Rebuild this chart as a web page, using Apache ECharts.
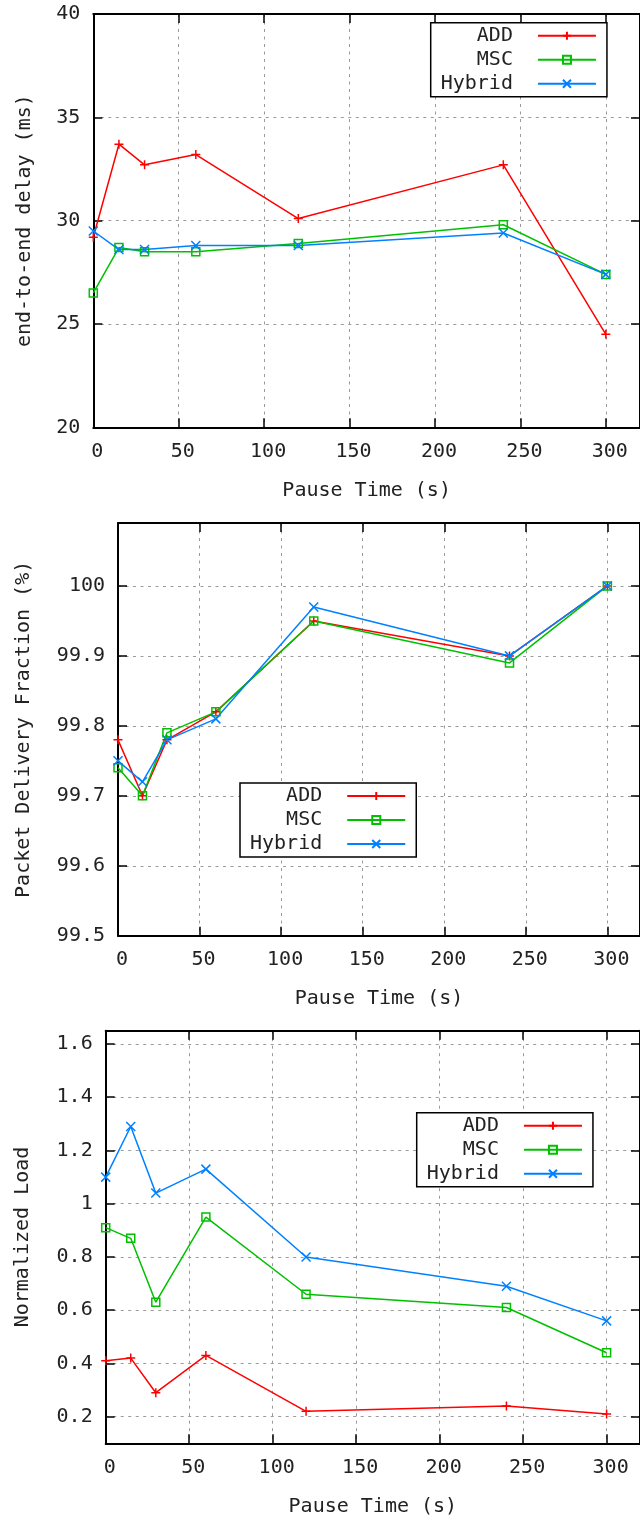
<!DOCTYPE html>
<html>
<head>
<meta charset="utf-8">
<script src="https://cdn.jsdelivr.net/npm/echarts@6/dist/echarts.min.js"></script>
<style>
html,body{margin:0;padding:0;background:#fff;}
#c{width:640px;height:1519px;}
</style>
</head>
<body>
<div id="c"></div>
<script>
// ---- data ----
const pauseTime = [0, 15, 30, 60, 120, 240, 300];
const seriesNames = ['ADD', 'MSC', 'Hybrid'];

const delayADD    = [29.2, 33.7, 32.7, 33.2, 30.1, 32.7, 24.5];
const delayMSC    = [26.5, 28.7, 28.5, 28.5, 28.9, 29.8, 27.4];
const delayHybrid = [29.5, 28.6, 28.6, 28.8, 28.8, 29.4, 27.4];

const pdfADD    = [99.78, 99.70, 99.78, 99.82, 99.95, 99.90, 100];
const pdfMSC    = [99.74, 99.70, 99.79, 99.82, 99.95, 99.89, 100];
const pdfHybrid = [99.75, 99.72, 99.78, 99.81, 99.97, 99.90, 100];

const loadADD    = [0.41, 0.42, 0.29, 0.43, 0.22, 0.24, 0.21];
const loadMSC    = [0.91, 0.87, 0.63, 0.95, 0.66, 0.61, 0.44];
const loadHybrid = [1.10, 1.29, 1.04, 1.13, 0.80, 0.69, 0.56];

const xTitle = 'Pause Time (s)';
const yTitles = ['end-to-end delay (ms)', 'Packet Delivery Fraction (%)', 'Normalized Load'];

// ---- style ----
const FONT = 'DejaVu Sans Mono';
const TXT = '#222';
const colors = ['#ff0000', '#00c000', '#0080ff'];
const symbols = ['path://M5,0L5,10M0,5L10,5', 'rect', 'path://M0,0L10,10M10,0L0,10'];
const symSizes = [9, 8, 9];

const panels = [
  { grid: {left: 93.3, top: 14, width: 547.7, height: 413.3},
    y: {min: 20, max: 40, interval: 5}, showMin: true, showMax: true,
    nameGap: 59, data: [delayADD, delayMSC, delayHybrid],
    legend: {left: 430.7, top: 22.7} },
  { grid: {left: 118, top: 523, width: 523.5, height: 412.7},
    y: {min: 99.5, max: 100.09, interval: 0.1}, showMin: true, showMax: false,
    nameGap: 84, data: [pdfADD, pdfMSC, pdfHybrid],
    legend: {left: 240, top: 783} },
  { grid: {left: 105.7, top: 1030.7, width: 535, height: 412.6},
    y: {min: 0.1, max: 1.65, minInterval: 0.2, maxInterval: 0.2}, showMin: false, showMax: false,
    nameGap: 73, data: [loadADD, loadMSC, loadHybrid],
    legend: {left: 416.7, top: 1112.7} }
];

const gridLine = {show: true, lineStyle: {color: '#9a9a9a', width: 1, type: [3, 4.5]}};
const frameLine = {show: true, onZero: false, lineStyle: {color: '#000', width: 2}};
const tick = {show: true, inside: true, length: 9, lineStyle: {color: '#000', width: 1.5}};

const option = {
  animation: false,
  backgroundColor: '#fff',
  grid: [], xAxis: [], yAxis: [], series: [], legend: []
};

panels.forEach((p, i) => {
  option.grid.push(Object.assign({containLabel: false}, p.grid));
  // bottom x axis
  option.xAxis.push({
    type: 'value', gridIndex: i, position: 'bottom', min: 0, max: 320, interval: 50,
    axisLine: frameLine, axisTick: tick, splitLine: gridLine,
    axisLabel: {fontFamily: FONT, fontSize: 20, color: TXT, margin: 14, showMaxLabel: false, padding: [0, 0, 0, 8]},
    name: xTitle, nameLocation: 'middle', nameGap: 53,
    nameTextStyle: {fontFamily: FONT, fontSize: 20, color: TXT}
  });
  // top mirror x axis
  option.xAxis.push({
    type: 'value', gridIndex: i, position: 'top', min: 0, max: 320, interval: 50,
    axisLine: frameLine, axisTick: tick, splitLine: {show: false}, axisLabel: {show: false}
  });
  const yBase = Object.assign({type: 'value', gridIndex: i}, p.y);
  option.yAxis.push(Object.assign({}, yBase, {
    position: 'left',
    axisLine: frameLine, axisTick: tick, splitLine: gridLine,
    axisLabel: {fontFamily: FONT, fontSize: 20, color: TXT, margin: 13, showMinLabel: p.showMin, showMaxLabel: p.showMax},
    name: yTitles[i], nameLocation: 'middle', nameGap: p.nameGap, nameRotate: 90,
    nameTextStyle: {fontFamily: FONT, fontSize: 20, color: TXT}
  }));
  option.yAxis.push(Object.assign({}, yBase, {
    position: 'right',
    axisLine: frameLine, axisTick: tick, splitLine: {show: false}, axisLabel: {show: false}
  }));
  seriesNames.forEach((nm, k) => {
    option.series.push({
      type: 'line', name: nm, xAxisIndex: 2 * i, yAxisIndex: 2 * i,
      data: pauseTime.map((x, j) => [x, p.data[k][j]]),
      symbol: symbols[k], symbolSize: symSizes[k], showAllSymbol: true,
      lineStyle: {color: colors[k], width: 1.5},
      itemStyle: {color: 'rgba(255,255,255,0)', borderColor: colors[k], borderWidth: 1.5},
      emphasis: {disabled: true}, silent: true, clip: false
    });
  });
  option.legend.push({
    orient: 'vertical', align: 'right', left: p.legend.left, top: p.legend.top,
    data: seriesNames, selectedMode: false,
    itemWidth: 58, itemHeight: 10, itemGap: 4,
    padding: [3, 10, 3, 10], borderColor: '#000', borderWidth: 1.5, borderRadius: 0,
    backgroundColor: '#fff',
    textStyle: {fontFamily: FONT, fontSize: 20, lineHeight: 16, color: TXT, padding: [0, 20, 0, 0]}
  });
});

const chart = echarts.init(document.getElementById('c'), null, {renderer: 'canvas', width: 640, height: 1519});
chart.setOption(option);
</script>
</body>
</html>
